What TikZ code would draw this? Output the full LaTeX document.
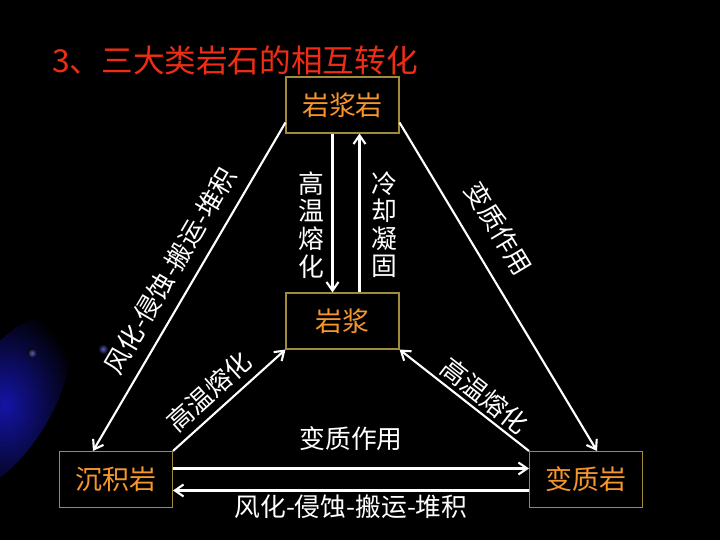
\documentclass[tikz,border=0pt]{standalone}
\usepackage{fontspec}
\setmainfont{Noto Sans CJK SC}
\usetikzlibrary{arrows.meta,calc}

\definecolor{titlered}{RGB}{240,45,20}
\definecolor{rockorange}{RGB}{245,150,45}
\definecolor{boxgold}{RGB}{160,140,60}
\definecolor{glowblue}{RGB}{20,20,165}

\tikzset{
	rock/.style={draw=boxgold, line width=0.9pt, minimum width=3.39cm, minimum height=1.68cm, inner sep=0pt, text=rockorange, font=\fontsize{23}{25}\selectfont},
	proc/.style={text=white, font=\fontsize{22}{23.5}\selectfont, inner sep=2pt},
	flow/.style={draw=white, line width=1.8pt, ->},
}

\begin{document}
\begin{tikzpicture}[x=0.03cm, y=-0.03cm, >={Straight Barb[length=2.6mm,width=3.6mm]}]
	\useasboundingbox (0,0) rectangle (720,540);
	\fill[black] (0,0) rectangle (720,540);
	% blue glow, bottom left corner
	\begin{scope}
		\clip (0,0) rectangle (720,540);
		\shade[inner color=glowblue, outer color=black, rotate around={58:(5,405)}] (5,405) ellipse (100 and 45);
		\shade[inner color=glowblue!70, outer color=black] (32,353) circle (5);
		\shade[inner color=glowblue!70, outer color=black] (103,349) circle (5);
	\end{scope}

	\node[anchor=west, inner sep=0pt, text=titlered, font=\fontsize{27}{29}\selectfont] (title) at (52,60) {3、三大类岩石的相互转化};

	\node[rock] (ign) at (342.5,105) {岩浆岩};
	\node[rock] (mag) at (342.5,321) {岩浆};
	\node[rock] (sed) at (116,479.5) {沉积岩};
	\node[rock] (met) at (586,479.5) {变质岩};

	\draw[flow] ($(ign.south)+(-10,0)$) -- node[proc, left=4pt, align=center, pos=0.575] (meltA) {高\\温\\熔\\化} ($(mag.north)+(-10,0)$);
	\draw[flow] ($(mag.north)+(17,0)$) -- node[proc, right=7pt, align=center, pos=0.425] (cool) {冷\\却\\凝\\固} ($(ign.south)+(17,0)$);
	\draw[flow] ($(ign.south west)+(0,-11)$) -- node[proc, sloped, above=8pt, pos=0.49] (erodeA) {风化-侵蚀-搬运-堆积} ($(sed.north)+(-23,0)$);
	\draw[flow] ($(ign.south east)+(0,-11)$) -- node[proc, sloped, above=13pt, pos=0.37] (metaA) {变质作用} ($(met.north)+(11,0)$);
	\draw[flow] (sed.north east) -- node[proc, sloped, above=4pt, pos=0.44] (meltB) {高温熔化} (mag.south west);
	\draw[flow] (met.north west) -- node[proc, sloped, above=1pt, pos=0.42] (meltC) {高温熔化} (mag.south east);
	\draw[flow] ($(sed.east)+(0,-11)$) -- node[proc, above=12pt] (metaB) {变质作用} ($(met.west)+(0,-11)$);
	\draw[flow] ($(met.west)+(0,11)$) -- node[proc, below=1pt] (erodeB) {风化-侵蚀-搬运-堆积} ($(sed.east)+(0,11)$);
\end{tikzpicture}
\end{document}
